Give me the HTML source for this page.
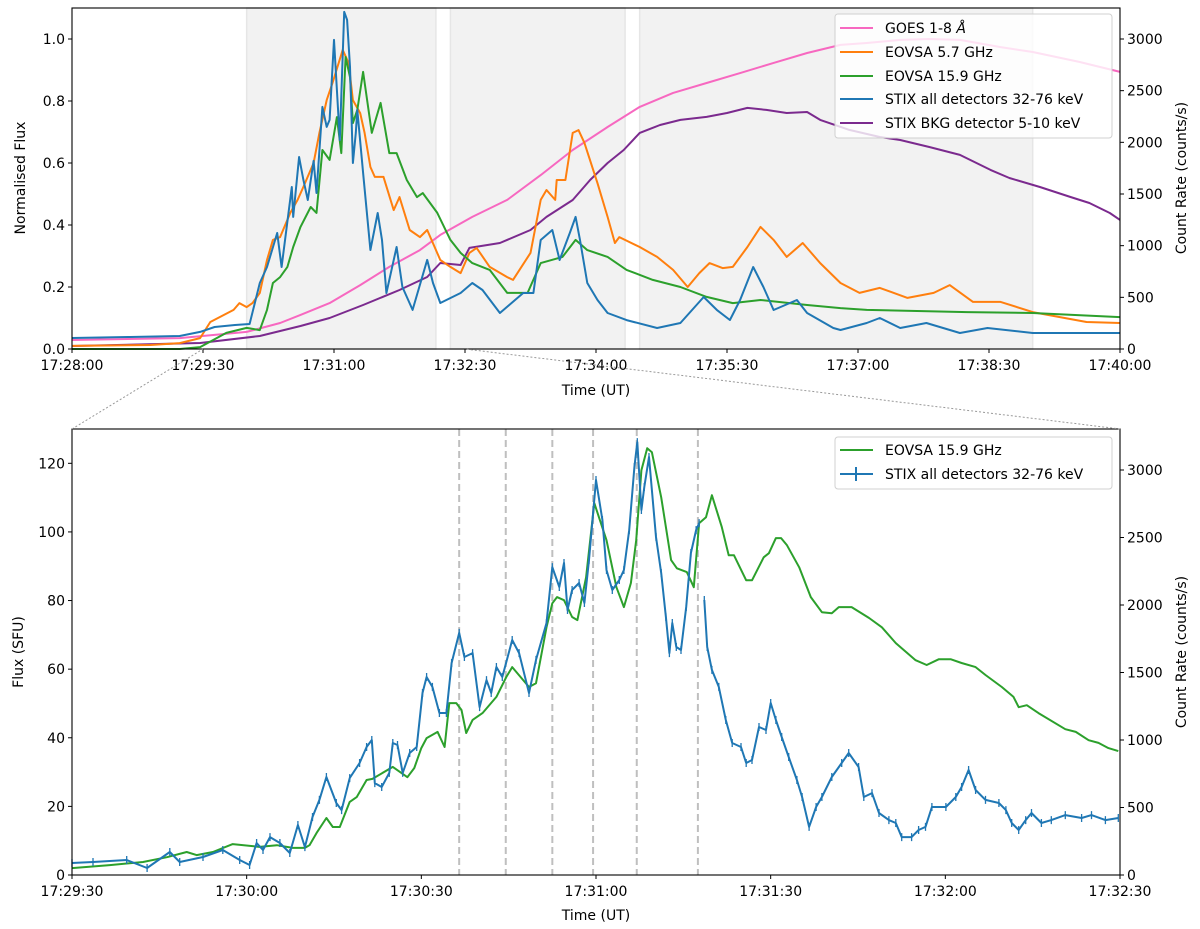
<!DOCTYPE html>
<html><head><meta charset="utf-8">
<style>
html,body{margin:0;padding:0;background:#fff;}
svg{display:block;font-family:"DejaVu Sans","Liberation Sans",sans-serif;}
</style></head>
<body>
<svg id="chart" width="1200" height="929" viewBox="0 0 1200 929" xmlns="http://www.w3.org/2000/svg"></svg>
<script>
// ===== Top panel data (t = seconds after 17:28:00) =====
const goesT=[0,74,120,143,157,177,198,218,239,253,275,299,322,344,368,390,413,436,459,482,505,528,546,569,589,610,638,660,692,720];
const goesV=[.029,.035,.055,.084,.11,.148,.206,.265,.319,.368,.426,.481,.561,.642,.716,.781,.826,.858,.89,.923,.955,.981,.987,.997,1.0,.997,.974,.958,.926,.894];
const eov57T=[0,54,74,88,95,111,115,120,124,129,134,138,143,150,155,159,166,170,175,179,186,190,193,198,201,205,208,214,221,225,232,239,244,253,260,267,273,278,287,299,303,315,322,326,332,333,339,344,348,352,361,368,373,376,390,402,413,423,431,438,447,454,464,473,482,491,502,514,528,541,555,574,592,603,619,638,660,697,720];
const eov57V=[.01,.013,.019,.035,.087,.126,.148,.135,.148,.181,.287,.352,.361,.439,.481,.523,.6,.697,.803,.858,.965,.923,.803,.761,.697,.587,.555,.555,.448,.49,.384,.361,.384,.287,.265,.245,.31,.326,.265,.232,.223,.31,.481,.513,.481,.545,.545,.697,.706,.665,.535,.426,.342,.361,.329,.297,.255,.2,.245,.277,.261,.265,.329,.394,.352,.297,.342,.277,.213,.181,.197,.165,.181,.206,.152,.152,.119,.087,.084];
const eov159T=[0,74,88,106,120,129,134,138,143,148,152,157,164,168,172,177,182,185,188,191,193,196,200,206,212,218,223,230,237,241,251,260,267,275,287,299,313,322,337,346,354,368,381,399,418,436,454,473,505,528,546,615,660,720];
const eov159V=[0,0,.006,.052,.068,.061,.126,.213,.232,.265,.329,.394,.458,.439,.642,.61,.748,.632,.942,.877,.729,.771,.894,.697,.794,.632,.632,.545,.49,.503,.439,.352,.31,.277,.255,.181,.181,.277,.297,.352,.319,.297,.255,.223,.2,.168,.148,.158,.142,.132,.126,.119,.116,.103];
const stixT=[0,40,74,88,98,112,122,129,134,141,144,151,152,156,159,162,166,168,172,175,177,180,182,184,187,189,191,193,195,196,200,205,210,213,216,223,227,234,244,248,253,267,275,282,294,310,317,322,330,335,342,346,349,354,361,368,381,402,418,434,443,452,459,468,475,482,498,505,523,528,546,555,569,587,610,629,660,720];
const stixC=[106,116,126,165,213,232,242,639,794,1123,794,1568,1278,1858,1636,1442,1820,1510,2343,2149,2217,2991,2507,2023,3262,3185,2730,1800,2091,2314,1704,958,1316,1055,542,987,600,378,862,639,445,542,639,571,348,542,542,1055,1152,861,1123,1278,1055,639,474,348,280,203,252,503,378,281,474,794,600,377,474,348,203,184,252,300,203,252,155,203,155,155];
const bkgT=[0,88,129,157,177,200,225,244,253,267,273,294,315,326,344,356,368,379,390,404,418,436,450,464,477,491,505,514,534,555,569,589,610,631,644,665,686,699,713,720];
const bkgC=[29,58,126,223,300,426,571,697,832,813,978,1026,1152,1278,1442,1636,1800,1926,2091,2168,2217,2246,2284,2333,2314,2284,2294,2217,2120,2052,2023,1955,1878,1733,1655,1568,1471,1413,1316,1249];
const spanStart=[120,260,390];
const spanEnd=[250,380,660];
const topNormTicks=[0,0.2,0.4,0.6,0.8,1.0];
const topNormLabels=["0.0","0.2","0.4","0.6","0.8","1.0"];
const countTicks=[0,500,1000,1500,2000,2500,3000];
const topTimeTicks=[0,90,180,270,360,450,540,630,720];
const topTimeLabels=["17:28:00","17:29:30","17:31:00","17:32:30","17:34:00","17:35:30","17:37:00","17:38:30","17:40:00"];

// ===== Bottom panel data (t = seconds after 17:29:30) =====
const zGreenT=[0,6.5,12.2,16.3,19.7,21.4,24.2,27.6,32.2,35.2,37.9,40,40.8,42,43.7,44.8,46,47.7,48.9,50.6,51.6,55.1,57.6,58.8,60,60.9,62.8,64,64.8,66,66.9,67.7,68.8,70.5,72.9,74.6,75.6,78.5,79.7,81.5,82.5,83.3,84.5,85.9,86.8,88.3,89.7,91.8,93.5,94.8,96,96.9,97.8,98.8,99.6,101.2,102.9,103.9,105.6,106.8,107.7,108.9,109.9,111.6,112.8,113.7,115.8,116.8,118.8,119.7,120.9,121.8,122.8,124.9,126.9,128.8,130.5,131.7,133.9,136.9,139.1,141.5,144.9,146.8,148.9,150.9,152.8,155.2,156.9,159.7,161.7,162.6,164,166,170.6,172.4,174.6,176.3,178,179.7];
const zGreenV=[2,2.9,3.8,5.2,6.7,5.8,6.7,9,8.2,8.7,7.9,7.9,8.7,12.2,16.6,14,14,21.3,22.7,27.7,28,31.5,28.5,31.2,37,39.9,41.7,37.3,50.1,50.1,48.1,41.4,45.2,47.2,51.9,57.7,60.6,54.8,55.9,72.2,79.2,81,80.1,75.2,74.3,86.8,108.4,97.6,83.9,78.1,85.1,97.6,118,124.4,123.2,110.1,91.8,89.4,88.3,83.9,102.5,104.3,110.7,101.4,93.2,93.2,85.9,85.9,92.6,93.8,98.2,98.2,96.1,89.7,81,76.6,76.3,78.1,78.1,74.9,72.2,67.6,62.6,61.2,62.9,62.9,61.8,60.6,58.3,54.8,51.9,48.9,49.5,47.2,42.5,41.7,39.3,38.5,37,36.1];
const zStixT=[0,3.6,9.4,12.9,16.8,18.5,22.5,25.9,28.8,30.5,31.7,32.8,34,35.7,37.4,38.8,40,41.3,42.5,43.7,45.4,46.3,47.7,49.4,50.6,51.5,52,53.2,54.5,55.1,55.9,56.8,58,59.2,60.2,60.9,61.9,63.1,64.3,65.2,66.5,67.4,68.8,70,71.2,72,72.9,73.9,75.6,76.8,78.5,79.7,81.5,82.5,83.7,84.5,85.1,85.9,87.1,88,88.8,90,91.1,91.8,92.8,94,94.8,95.7,96.6,97.1,97.8,98.3,99.1,100.3,101.2,102,102.6,103.1,103.8,104.6,105.5,106.3,107.2,107.7,108.2,108.6,109.1,109.9,111.1,112.3,113.4,114.9,115.8,116.8,118,119.2,120,120.9,121.9,123.1,124.5,125.4,126.6,127.8,128.8,130.5,132.2,133.4,135.1,136,137.4,138.6,140.3,141.5,142.5,144.2,145.4,146.6,147.7,150.1,151.8,152.8,154,155.2,156.9,159.2,160.4,161.4,162.6,163.8,164.8,166.5,168.2,170.6,173.4,175.1,177.5,179.7];
const zStixC=[89,96,111,52,170,96,133,185,111,74,237,185,281,237,163,370,207,430,556,726,533,481,718,830,948,1000,681,652,756,978,963,756,904,948,1348,1467,1393,1200,1200,1570,1793,1615,1644,1244,1444,1348,1541,1467,1741,1644,1348,1593,1867,2281,2133,2311,1963,2111,2163,2015,2333,2926,2630,2259,2111,2185,2259,2555,3022,3207,2704,2874,3096,2504,2237,1911,1644,1867,1689,1667,1985,2385,2555,2607,null,2037,1689,1519,1393,1148,978,948,830,852,1096,1074,1274,1148,1022,874,704,578,356,504,578,726,830,904,800,578,607,459,407,385,281,281,333,356,504,504,578,652,778,630,556,533,481,385,333,407,459,385,407,444,422,444,407,422];
const markerT=[66.5,74.5,82.5,89.5,97,107.5];
const fluxTicks=[0,20,40,60,80,100,120];
const botTimeTicks=[0,30,60,90,120,150,180];
const botTimeLabels=["17:29:30","17:30:00","17:30:30","17:31:00","17:31:30","17:32:00","17:32:30"];

const NS="http://www.w3.org/2000/svg";
const svg=document.getElementById('chart');
function mk(tag,attrs,parent){const e=document.createElementNS(NS,tag);for(const k in attrs)e.setAttribute(k,attrs[k]);(parent||svg).appendChild(e);return e;}

const L=72,R=1120;
const T1=8,B1=349, T2=429,B2=875;
const xTop=t=>L+t*(R-L)/720;
const yNorm=v=>B1-v*(B1-T1)/1.1;
const yTopCount=c=>B1-c*(B1-T1)/3300;
const xBot=t=>L+t*(R-L)/180;
const yFlux=v=>B2-v*(B2-T2)/130;
const yBotCount=c=>B2-c*(B2-470)/3000;

const C={goes:'#f768c0',o:'#ff7f0e',g:'#2ca02c',b:'#1f77b4',p:'#7b2a8e'};

function pathFrom(xs,ys,fx,fy){let d='',pen=false;for(let i=0;i<xs.length;i++){if(ys[i]===null){pen=false;continue;}d+=(pen?'L':'M')+fx(xs[i]).toFixed(1)+','+fy(ys[i]).toFixed(1);pen=true;}return d;}

// ===== TOP PANEL =====
const gTop=mk('g',{});


for(let i=0;i<spanStart.length;i++){
  const r=mk('rect',{x:xTop(spanStart[i]),y:T1,width:xTop(spanEnd[i])-xTop(spanStart[i]),height:B1-T1,fill:'#f2f2f2',stroke:'#e6e6e6','stroke-width':1.5},gTop);
  
  
}
const topSeries=[
 [goesT,goesV,yNorm,C.goes,'goes-1-8-line'],
 [bkgT,bkgC,yTopCount,C.p,'stix-bkg-line'],
 [eov57T,eov57V,yNorm,C.o,'eovsa-5-7-line'],
 [eov159T,eov159V,yNorm,C.g,'eovsa-15-9-line'],
 [stixT,stixC,yTopCount,C.b,'stix-32-76-line']];
for(const s of topSeries){
  const p=mk('path',{d:pathFrom(s[0],s[1],xTop,s[2]),fill:'none',stroke:s[3],'stroke-width':2,'stroke-linejoin':'round'},gTop);
  
  
}
mk('rect',{x:L,y:T1,width:R-L,height:B1-T1,fill:'none',stroke:'#000','stroke-width':1.1},gTop);
topNormTicks.forEach((v,i)=>{
  const y=yNorm(v);
  mk('line',{x1:L-4,x2:L,y1:y,y2:y,stroke:'#000'},gTop);
  const t=mk('text',{x:L-7,y:y+5,'text-anchor':'end','font-size':14},gTop);t.textContent=topNormLabels[i];
  
  
});
countTicks.forEach(c=>{
  const y=yTopCount(c);
  mk('line',{x1:R,x2:R+4,y1:y,y2:y,stroke:'#000'},gTop);
  const t=mk('text',{x:R+7,y:y+5,'font-size':14},gTop);t.textContent=c;
  
  
});
topTimeTicks.forEach((tt,i)=>{
  const x=xTop(tt);
  mk('line',{x1:x,x2:x,y1:B1,y2:B1+4,stroke:'#000'},gTop);
  const t=mk('text',{x:x,y:B1+21,'text-anchor':'middle','font-size':14},gTop);t.textContent=topTimeLabels[i];
  
  
});

// ===== BOTTOM PANEL =====
const gBot=mk('g',{});


markerT.forEach(tt=>{
  const l=mk('line',{x1:xBot(tt),x2:xBot(tt),y1:T2,y2:B2,stroke:'#bfbfbf','stroke-width':2,'stroke-dasharray':'7,4'},gBot);
  
  
});
const pg=mk('path',{d:pathFrom(zGreenT,zGreenV,xBot,yFlux),fill:'none',stroke:C.g,'stroke-width':2,'stroke-linejoin':'round'},gBot);


let eb='';
zStixT.forEach((tt,i)=>{if(zStixC[i]===null)return;const x=xBot(tt).toFixed(1);eb+='M'+x+','+(yBotCount(zStixC[i])-4).toFixed(1)+'V'+(yBotCount(zStixC[i])+4).toFixed(1);});
const pe=mk('path',{d:eb,stroke:C.b,'stroke-width':1.3,fill:'none'},gBot);


const pb=mk('path',{d:pathFrom(zStixT,zStixC,xBot,yBotCount),fill:'none',stroke:C.b,'stroke-width':2,'stroke-linejoin':'round'},gBot);


mk('rect',{x:L,y:T2,width:R-L,height:B2-T2,fill:'none',stroke:'#000','stroke-width':1.1},gBot);
fluxTicks.forEach(v=>{
  const y=yFlux(v);
  mk('line',{x1:L-4,x2:L,y1:y,y2:y,stroke:'#000'},gBot);
  const t=mk('text',{x:L-7,y:y+5,'text-anchor':'end','font-size':14},gBot);t.textContent=v;
  
  
});
countTicks.forEach(c=>{
  const y=yBotCount(c);
  mk('line',{x1:R,x2:R+4,y1:y,y2:y,stroke:'#000'},gBot);
  const t=mk('text',{x:R+7,y:y+5,'font-size':14},gBot);t.textContent=c;
  
  
});
botTimeTicks.forEach((tt,i)=>{
  const x=xBot(tt);
  mk('line',{x1:x,x2:x,y1:B2,y2:B2+4,stroke:'#000'},gBot);
  const t=mk('text',{x:x,y:B2+21,'text-anchor':'middle','font-size':14},gBot);t.textContent=botTimeLabels[i];
  
  
});

const c1=mk('line',{x1:L,y1:T2,x2:xTop(90),y2:B1,stroke:'#999','stroke-width':1,'stroke-dasharray':'2,2'});


const c2=mk('line',{x1:R,y1:T2,x2:xTop(270),y2:B1,stroke:'#999','stroke-width':1,'stroke-dasharray':'2,2'});


</script>

<svg style="position:absolute;left:0;top:0" width="1200" height="929" xmlns="http://www.w3.org/2000/svg" font-family="DejaVu Sans, Liberation Sans, sans-serif" font-size="14">
  <text x="596" y="395" text-anchor="middle">Time (UT)</text>
  <text transform="translate(25,178) rotate(-90)" text-anchor="middle">Normalised Flux</text>
  <text transform="translate(1186,178) rotate(-90)" text-anchor="middle">Count Rate (counts/s)</text>
  <text x="596" y="920" text-anchor="middle">Time (UT)</text>
  <text transform="translate(23,652) rotate(-90)" text-anchor="middle">Flux (SFU)</text>
  <text transform="translate(1186,652) rotate(-90)" text-anchor="middle">Count Rate (counts/s)</text>

  <g>
    <rect x="835" y="14" width="277" height="124" rx="3" fill="#fff" fill-opacity="0.8" stroke="#d0d0d0"/>
    <g><line x1="840" x2="873" y1="28" y2="28" stroke="#f768c0" stroke-width="2"/><text x="885" y="33">GOES 1-8 <tspan font-style="italic">Å</tspan></text></g>
    <g><line x1="840" x2="873" y1="52" y2="52" stroke="#ff7f0e" stroke-width="2"/><text x="885" y="57">EOVSA 5.7 GHz</text></g>
    <g><line x1="840" x2="873" y1="76" y2="76" stroke="#2ca02c" stroke-width="2"/><text x="885" y="81">EOVSA 15.9 GHz</text></g>
    <g><line x1="840" x2="873" y1="99" y2="99" stroke="#1f77b4" stroke-width="2"/><text x="885" y="104">STIX all detectors 32-76 keV</text></g>
    <g><line x1="840" x2="873" y1="123" y2="123" stroke="#7b2a8e" stroke-width="2"/><text x="885" y="128">STIX BKG detector 5-10 keV</text></g>
  </g>
  <g>
    <rect x="835" y="437" width="277" height="52" rx="3" fill="#fff" fill-opacity="0.8" stroke="#d0d0d0"/>
    <g><line x1="840" x2="873" y1="450" y2="450" stroke="#2ca02c" stroke-width="2"/><text x="885" y="455">EOVSA 15.9 GHz</text></g>
    <g><line x1="840" x2="873" y1="474" y2="474" stroke="#1f77b4" stroke-width="2"/><line x1="856" x2="856" y1="467" y2="481" stroke="#1f77b4" stroke-width="2"/><text x="885" y="479">STIX all detectors 32-76 keV</text></g>
  </g>
</svg>
</body></html>
